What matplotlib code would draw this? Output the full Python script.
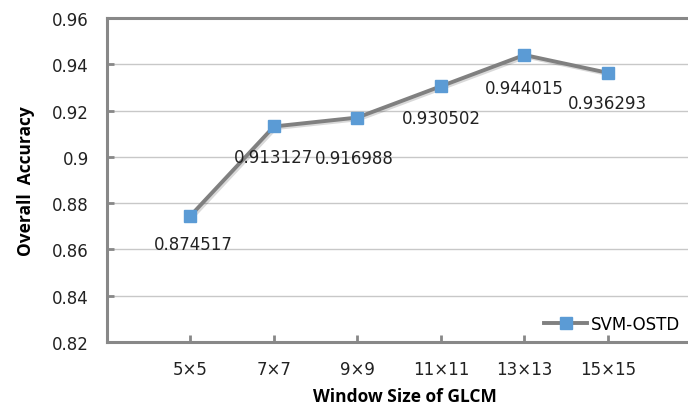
import matplotlib
matplotlib.use("Agg")
import matplotlib.pyplot as plt
import matplotlib.patheffects as pe
from matplotlib.lines import Line2D

# window sizes and accuracy values
windows = ["5×5", "7×7", "9×9", "11×11", "13×13", "15×15"]
accuracy = [0.874517, 0.913127, 0.916988, 0.930502, 0.944015, 0.936293]
# label offsets (points) below each marker
label_dx = [2, 0, -2, 0, 0, 0]
label_dy = [-20, -22, -29, -23, -24, -22]

plt.rcParams['font.family'] = ['DejaVu Sans']

fig = plt.figure(figsize=(6.88, 4.10), dpi=100)
ax = fig.add_axes([0.1555, 0.1634, 0.8445, 0.7903])

xs = list(range(1, len(windows) + 1))
ax.plot(xs, accuracy, color="#808080", linewidth=2.8, zorder=3,
        path_effects=[pe.SimpleLineShadow(offset=(1.2, -1.2), alpha=0.15), pe.Normal()])
ax.plot(xs, accuracy, linestyle="none", marker="s", markersize=8,
        markerfacecolor="#5B9BD5", markeredgecolor="#5B9BD5", zorder=4)

for x, v, dx, dy in zip(xs, accuracy, label_dx, label_dy):
    ax.annotate(f"{v:.6f}", (x, v), xytext=(dx, dy), textcoords="offset points",
                ha="center", va="center", fontsize=12, color="#222222")

ax.set_xlim(0, 6.96)
ax.set_ylim(0.82, 0.96)
ax.set_xticks(xs)
ax.set_xticklabels(windows)
ax.set_yticks([0.82, 0.84, 0.86, 0.88, 0.9, 0.92, 0.94, 0.96])
ax.set_yticklabels(["0.82", "0.84", "0.86", "0.88", "0.9", "0.92", "0.94", "0.96"])
ax.tick_params(axis="both", direction="in", length=5, width=2, color="#888888",
               labelsize=12, labelcolor="#222222")
ax.tick_params(axis="y", pad=13)
ax.tick_params(axis="x", pad=13)

ax.grid(axis="y", color="#C8C8C8", linewidth=1)
ax.set_axisbelow(True)
for side in ["left", "bottom", "top"]:
    ax.spines[side].set_color("#888888")
    ax.spines[side].set_linewidth(2.2)
ax.spines["right"].set_visible(False)

ax.set_xlabel("Window Size of GLCM", fontsize=12.5, fontweight="bold",
              family="Open Sans")
ax.xaxis.set_label_coords(0.513, -0.14)
ax.set_ylabel("Overall  Accuracy", fontsize=12.5, fontweight="bold",
              family="Open Sans", labelpad=12)

handle = Line2D([], [], color="#808080", linewidth=2.8, marker="s", markersize=8,
                markerfacecolor="#5B9BD5", markeredgecolor="#5B9BD5")
ax.legend([handle], ["SVM-OSTD"], loc="center left", bbox_to_anchor=(0.752, 0.056),
          frameon=False, fontsize=12, handlelength=2.6, borderpad=0,
          borderaxespad=0, handletextpad=0.2)

fig.savefig("out.png", dpi=100)
